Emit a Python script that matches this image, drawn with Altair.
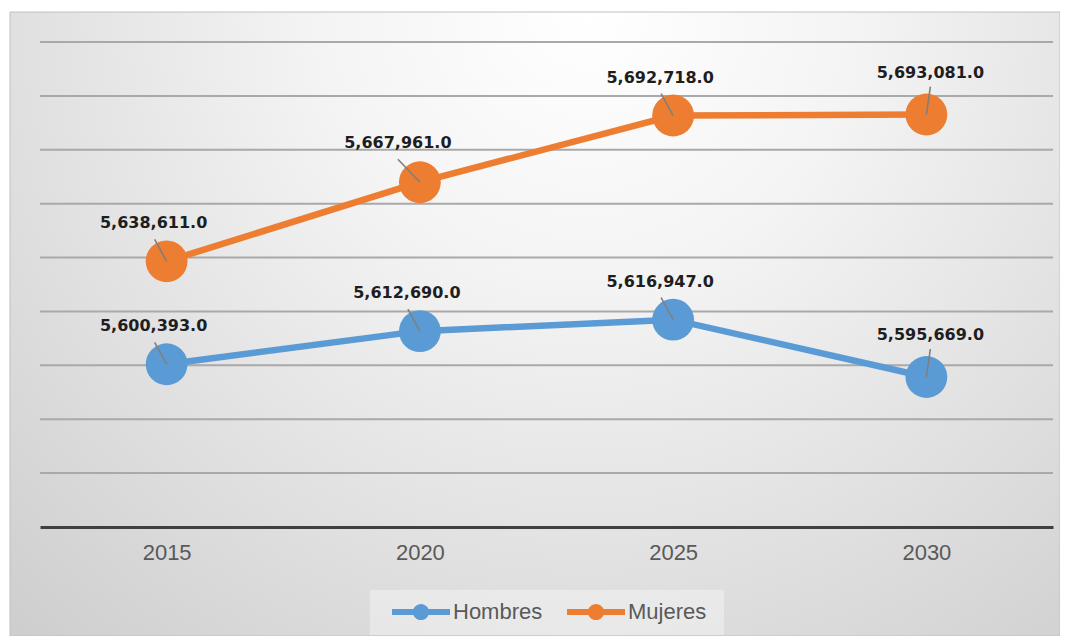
import altair as alt
import pandas as pd

years = ["2015", "2020", "2025", "2030"]
series_names = ["Hombres", "Mujeres"]
hombres = [5600393, 5612690, 5616947, 5595669]
mujeres = [5638611, 5667961, 5692718, 5693081]
grid_values = [5560000, 5580000, 5600000, 5620000, 5640000, 5660000, 5680000, 5700000, 5720000]
y_domain = [5540000, 5720000]
colors = ["#5B9BD5", "#ED7D31"]

rows = []
for name, vals in zip(series_names, [hombres, mujeres]):
    for yr, v in zip(years, vals):
        rows.append({"year": yr, "serie": name, "value": v})
df = pd.DataFrame(rows)
grid_df = pd.DataFrame({"g": grid_values})
one = pd.DataFrame({"a": [0]})

W, H = 1013, 485

x_enc = alt.X(
    "year:N",
    sort=years,
    scale=alt.Scale(type="point", padding=0.5),
    axis=alt.Axis(
        title=None, labelAngle=0, ticks=False, grid=False,
        domainColor="#404040", domainWidth=3,
        labelFont="Liberation Sans", labelFontSize=22, labelColor="#595959",
        labelPadding=15, zindex=1,
    ),
)
y_scale = alt.Scale(domain=y_domain, zero=False, nice=False)
y_enc = alt.Y("value:Q", scale=y_scale, axis=None)
color_scale = alt.Scale(domain=series_names, range=colors)

legend_path = ("M-1,-0.1H1V0.1H-1Z "
               "M-0.28,0A0.28,0.28,0,1,1,0.28,0A0.28,0.28,0,1,1,-0.28,0Z")

legend = alt.Legend(
    title=None, orient="none", direction="horizontal",
    legendX=352, legendY=541, padding=0,
    symbolType=legend_path, symbolSize=3364, symbolStrokeWidth=0,
    symbolFillColor="#000000",
    symbolOpacity=1, labelFont="Liberation Sans", labelFontSize=22,
    labelColor="#595959", labelOffset=3, columnPadding=24,
    labelBaseline="middle",
)

bg = alt.Chart(one).mark_rect(
    fill={
        "gradient": "radial",
        "x1": 0.55, "y1": 0.2, "r1": 0,
        "x2": 0.55, "y2": 0.2, "r2": 0.85,
        "stops": [
            {"offset": 0, "color": "#ffffff"},
            {"offset": 0.3, "color": "#f4f4f4"},
            {"offset": 1, "color": "#cbcbcb"},
        ],
    },
    stroke="#c0c0c0", strokeWidth=1,
).encode(x=alt.value(-30), x2=alt.value(1020), y=alt.value(-30), y2=alt.value(594))

legend_box = alt.Chart(one).mark_rect(fill="#ffffff", opacity=0.35).encode(
    x=alt.value(330), x2=alt.value(684), y=alt.value(548), y2=alt.value(593)
)

grid = alt.Chart(grid_df).mark_rule(color="#a9a9a9", strokeWidth=2).encode(
    y=alt.Y("g:Q", scale=y_scale, axis=None)
)

line = alt.Chart(df).mark_line(strokeWidth=6.5).encode(
    x=x_enc, y=y_enc,
    color=alt.Color("serie:N", scale=color_scale, legend=legend),
)

points = alt.Chart(df).mark_circle(size=1750, opacity=1).encode(
    x=x_enc, y=y_enc,
    color=alt.Color("serie:N", scale=color_scale, legend=legend),
)


def labels(expr, dx, dy, lx, ly):
    base = alt.Chart(df).transform_filter(expr)
    rule = base.mark_rule(color="#7f7f7f", strokeWidth=1.6, x2Offset=lx, y2Offset=ly).encode(
        x=x_enc, y=y_enc, x2=alt.X2("year"), y2=alt.Y2("value")
    )
    text = base.mark_text(
        dx=dx, dy=dy, font="DejaVu Sans", fontWeight="bold", fontSize=16,
        color="#1e1e1e", baseline="middle", align="center",
    ).encode(x=x_enc, y=y_enc, text=alt.Text("value:Q", format=",.1f"))
    return [rule, text]


layers = [bg, legend_box, grid, line, points]
layers += labels("datum.year != '2030' && !(datum.year == '2020' && datum.serie == 'Mujeres')", -13, -38, -12, -22)
layers += labels("datum.year == '2020' && datum.serie == 'Mujeres'", -22, -39, -22, -23)
layers += labels("datum.year == '2030'", 4, -42, 4, -28)

chart = alt.layer(*layers).properties(
    width=W, height=H,
    autosize=alt.AutoSizeParams(type="none"),
    padding={"left": 32, "top": 34, "right": 7, "bottom": 109},
).configure_view(stroke=None)

chart.save("out.html", embed_options={"renderer": "svg", "actions": False})
